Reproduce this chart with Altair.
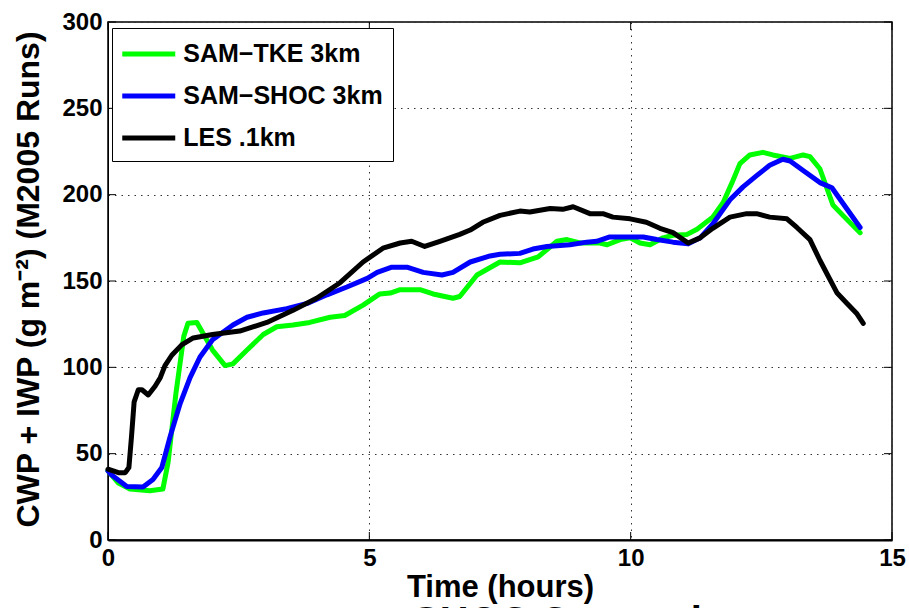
import altair as alt
import pandas as pd

# ---- data ----
tke_t = [0, 0.2, 0.42, 0.8, 1.05, 1.15, 1.3, 1.45, 1.53, 1.7, 2.0, 2.24, 2.39, 2.66, 2.97, 3.23,
         3.54, 3.86, 4.25, 4.53, 4.88, 5.2, 5.4, 5.59, 5.97, 6.22, 6.6, 6.73, 7.06, 7.5, 7.88,
         8.23, 8.59, 8.78, 9.03, 9.41, 9.55, 9.8, 9.99, 10.18, 10.37, 10.62, 10.81, 11.08,
         11.27, 11.57, 11.77, 11.94, 12.09, 12.28, 12.53, 12.72, 13.05, 13.3, 13.43, 13.62,
         13.87, 14.06, 14.39]
tke_v = [40, 33, 29.5, 28.5, 29.5, 45, 85, 118, 125.5, 126, 110, 101, 102, 110, 119, 123.5,
         124.5, 126, 129, 130, 136, 142.5, 143, 145, 145, 142.5, 140, 141, 153.5, 161, 160.5,
         164, 173, 174, 172, 172, 171, 174, 175, 172, 171, 175, 176.5, 177,
         180, 187, 195.5, 207, 218, 223, 224.5, 223, 221, 223, 222, 215,
         194, 188, 178]

shoc_t = [0, 0.07, 0.36, 0.67, 0.86, 1.03, 1.19, 1.38, 1.57, 1.76, 2.0, 2.39, 2.66, 2.97, 3.42,
          3.81, 4.19, 4.57, 4.96, 5.15, 5.43, 5.72, 6.03, 6.39, 6.6, 6.93, 7.31, 7.5, 7.88,
          8.13, 8.4, 8.84, 9.16, 9.35, 9.6, 9.99, 10.24, 10.5, 10.81, 11.1, 11.33, 11.57,
          11.9, 12.15, 12.41, 12.66, 12.91, 13.05, 13.3, 13.62, 13.85, 14.06, 14.39]
shoc_v = [40, 37.6, 31, 30.7, 35, 42, 60, 79, 94, 106, 116, 124.5, 129, 131.5, 134,
          137, 142, 146.5, 151.5, 155, 158, 158, 155, 153.5, 155, 161, 164.5, 165.5, 166,
          168.5, 170, 171, 172.5, 173, 175.5, 175.5, 175.5, 174, 172.5, 171.5, 175, 183,
          197, 204.5, 211, 217, 220.5, 219.5, 214, 207, 204, 195, 181]

les_t = [0, 0.2, 0.33, 0.4, 0.45, 0.5, 0.58, 0.65, 0.77, 0.9, 1.0, 1.09, 1.22, 1.41, 1.63, 2.0,
         2.52, 3.04, 3.54, 3.99, 4.44, 4.88, 5.26, 5.59, 5.81, 6.06, 6.35, 6.73, 6.93, 7.17,
         7.5, 7.88, 8.07, 8.46, 8.7, 8.9, 9.22, 9.47, 9.66, 9.99, 10.3, 10.56, 10.81, 11.1,
         11.33, 11.57, 11.9, 12.22, 12.41, 12.66, 12.99, 13.18, 13.43, 13.62, 13.75, 13.95,
         14.14, 14.33, 14.45]
les_v = [41, 39, 39, 42, 60, 80, 87, 87, 84, 89, 94, 101, 107, 113, 117, 119,
         121, 126, 133, 140, 149, 161, 169, 172, 173, 170, 173, 177, 179.5, 184,
         188, 190.5, 190, 192, 191.5, 193, 189, 189, 187, 186, 184, 180.5, 178, 172,
         175, 180.5, 187, 189, 189, 187, 186, 181, 174, 162, 154.5, 143,
         137, 131, 125.5]

series_names = ["SAM\u2212TKE 3km", "SAM\u2212SHOC 3km", "LES .1km"]
series_colors = ["#00ff00", "#0000ff", "#000000"]

x_ticks = [0, 5, 10, 15]
y_ticks = [0, 50, 100, 150, 200, 250, 300]

x_title = "Time (hours)"
y_title = "CWP + IWP (g m\u207b\u00b2) (M2005 Runs)"
bottom_title = ["SHOC Comparison"]

# ---- build table ----
rows = []
for name, ts, vs in zip(series_names, [tke_t, shoc_t, les_t], [tke_v, shoc_v, les_v]):
    for i, (t, v) in enumerate(zip(ts, vs)):
        rows.append({"series": name, "t": t, "v": v, "i": i})
df = pd.DataFrame(rows)

W, H = 784, 518
FONT = "Liberation Sans"

xscale = alt.Scale(domain=[0, 15], nice=False)
yscale = alt.Scale(domain=[0, 300], nice=False)

lines = alt.Chart(df).mark_line(strokeWidth=5, strokeJoin="round", strokeCap="round").encode(
    x=alt.X("t:Q", scale=xscale,
            axis=alt.Axis(values=x_ticks, title=x_title, grid=True, ticks=False,
                          labelFlush=False, labelPadding=6, titleY=56,
                          titleBaseline="alphabetic", domainWidth=2)),
    y=alt.Y("v:Q", scale=yscale,
            axis=alt.Axis(values=y_ticks, title=y_title, grid=True, ticks=False,
                          labelFlush=False, labelPadding=6, titleX=-70, titleY=H / 2 - 2,
                          titleBaseline="alphabetic", titleAlign="center")),
    color=alt.Color("series:N",
                    scale=alt.Scale(domain=series_names, range=series_colors),
                    legend=alt.Legend(title=None, orient="none", legendX=4, legendY=6,
                                      symbolType="M-2,0H2", symbolSize=702,
                                      symbolStrokeWidth=5, symbolOffset=10.75,
                                      labelOffset=18.5, padding=10, rowPadding=13)),
    order="i:Q",
    detail="series:N",
)

xt = pd.DataFrame({"x": x_ticks})
yt = pd.DataFrame({"y": y_ticks})
tick_x_bot = alt.Chart(xt).mark_rule(color="black", strokeWidth=1).encode(
    x=alt.X("x:Q", scale=xscale), y=alt.value(H), y2=alt.value(H - 8))
tick_x_top = alt.Chart(xt).mark_rule(color="black", strokeWidth=1).encode(
    x=alt.X("x:Q", scale=xscale), y=alt.value(0), y2=alt.value(8))
tick_y_left = alt.Chart(yt).mark_rule(color="black", strokeWidth=1).encode(
    y=alt.Y("y:Q", scale=yscale), x=alt.value(0), x2=alt.value(8))
tick_y_right = alt.Chart(yt).mark_rule(color="black", strokeWidth=1).encode(
    y=alt.Y("y:Q", scale=yscale), x=alt.value(W), x2=alt.value(W - 8))

btitle = alt.Chart(pd.DataFrame({"txt": bottom_title})).mark_text(
    font=FONT, fontSize=40, fontWeight="bold", align="left", baseline="alphabetic",
    clip=False, color="black").encode(
    text="txt:N", x=alt.value(305), y=alt.value(613))

chart = alt.layer(lines, tick_x_bot, tick_x_top, tick_y_left, tick_y_right, btitle).properties(
    width=W, height=H,
    autosize=alt.AutoSizeParams(type="none"),
    padding={"left": 108, "top": 22, "right": 17, "bottom": 68},
    background="white",
).configure_view(
    stroke="black", strokeWidth=1.5
).configure_axis(
    labelFont=FONT, labelFontSize=24, labelFontWeight="bold", labelColor="black",
    titleFont=FONT, titleFontWeight="bold", titleColor="black",
    domainColor="black", gridColor="#333333", gridDash=[1.5, 5], gridWidth=1,
    gridOpacity=1,
).configure_axisX(
    titleFontSize=31,
).configure_axisY(
    titleFontSize=32,
).configure_legend(
    labelFont=FONT, labelFontSize=25, labelFontWeight="bold", labelColor="black",
    strokeColor="black", fillColor="white", labelLimit=400,
)

chart.save("out.html", embed_options={"renderer": "svg", "actions": False})
